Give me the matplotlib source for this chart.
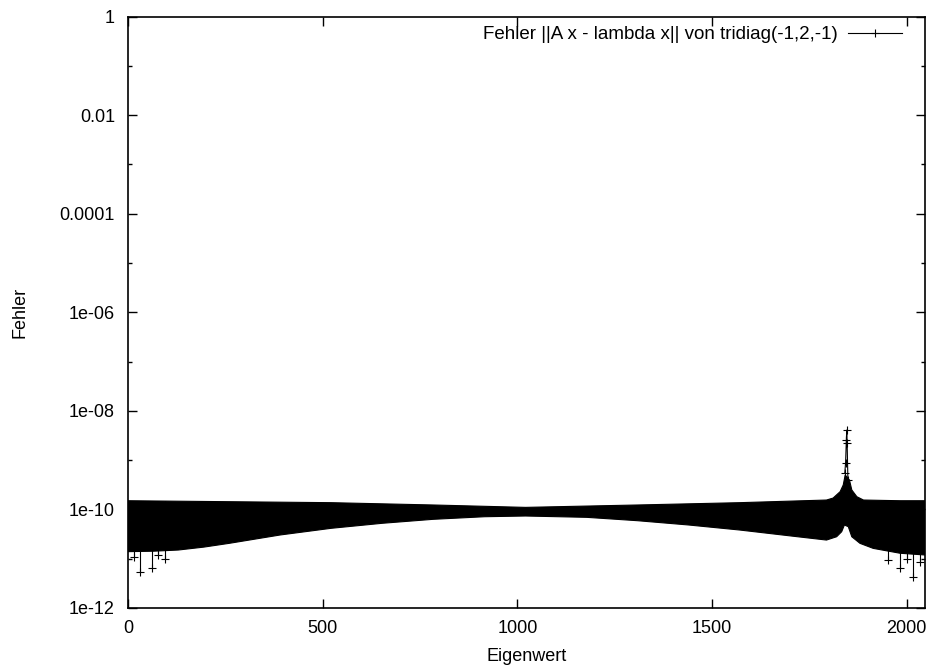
import matplotlib
matplotlib.use("Agg")
import matplotlib.pyplot as plt
import numpy as np

plt.rcParams["font.family"] = ["Liberation Sans", "DejaVu Sans"]

# Upper edge of the error band (eigenvalue index, error)
upper_idx = [0, 522, 784, 1021, 1309, 1571, 1794, 1811, 1829, 1837, 1842,
             1853, 1859, 1872, 1889, 1983, 2047]
upper_val = [1.50e-10, 1.37e-10, 1.23e-10, 1.10e-10, 1.23e-10, 1.37e-10, 1.55e-10,
             1.70e-10, 2.29e-10, 3.13e-10, 4.99e-10,
             3.95e-10, 2.48e-10, 1.81e-10, 1.55e-10, 1.50e-10, 1.50e-10]

# Lower edge of the error band
lower_idx = [0, 65, 129, 195, 260, 391, 522, 653, 784, 916, 1021, 1178, 1309, 1440,
             1571, 1703, 1794, 1820, 1833, 1840, 1850, 1859, 1880, 1914, 1983, 2047]
lower_val = [1.39e-11, 1.42e-11, 1.50e-11, 1.72e-11, 2.05e-11, 3.03e-11, 4.14e-11,
             5.23e-11, 6.30e-11, 7.11e-11, 7.35e-11, 6.91e-11, 5.90e-11, 4.83e-11,
             3.82e-11, 2.89e-11, 2.39e-11, 2.79e-11, 3.53e-11, 4.83e-11, 4.46e-11,
             2.79e-11, 2.05e-11, 1.62e-11, 1.29e-11, 1.19e-11]

# Peak near eigenvalue 1845
spike_idx = [1841, 1843, 1845, 1846, 1847, 1849]
spike_val = [5.5e-10, 8.7e-10, 2.56e-9, 4.08e-9, 2.22e-9, 3.95e-10]

# Single points that drop below the band
out_idx = [15, 30, 61, 78, 94, 1953, 1983, 2000, 2017, 2034]
out_val = [1.1e-11, 5.45e-12, 6.38e-12, 1.19e-11, 9.7e-12,
           9.4e-12, 6.38e-12, 9.7e-12, 4.3e-12, 8.7e-12]

ytick_vals = [1e-12, 1e-10, 1e-8, 1e-6, 1e-4, 1e-2, 1]
ytick_labels = ["1e-12", "1e-10", "1e-08", "1e-06", "0.0001", "0.01", "1"]
yminor_vals = [1e-11, 1e-9, 1e-7, 1e-5, 1e-3, 1e-1]
xtick_vals = [0, 500, 1000, 1500, 2000]

W, H = 932, 667
fig = plt.figure(figsize=(W / 100, H / 100), dpi=100)
ax = fig.add_axes([128 / W, 1 - 608 / H, (925 - 128) / W, (608 - 16.5) / H])

# band: dense zig-zag of the 2048 points renders as a solid black area
poly_x = np.concatenate([upper_idx, lower_idx[::-1]])
poly_y = np.concatenate([upper_val, lower_val[::-1]])
ax.fill(poly_x, poly_y, color="black", lw=0.8, ec="black")

# outliers hang off their neighbour on the upper edge
out_from = np.interp(out_idx, upper_idx, upper_val)
ax.vlines(out_idx, out_val, out_from, color="black", lw=0.8)
ax.plot(out_idx, out_val, ls="none", marker="+", ms=6, mew=0.8, color="black")

ax.plot(spike_idx, spike_val, "-", marker="+", ms=6, mew=0.8, lw=0.8, color="black",
        label="Fehler ||A x - lambda x|| von tridiag(-1,2,-1)")

ax.set_yscale("log")
ax.set_xlim(0, 2047)
ax.set_ylim(1e-12, 1)
ax.set_yticks(ytick_vals)
ax.set_yticklabels(ytick_labels)
ax.set_yticks(yminor_vals, minor=True)
ax.yaxis.set_minor_formatter(matplotlib.ticker.NullFormatter())
ax.set_xticks(xtick_vals)
ax.tick_params(which="both", direction="in", top=True, right=True,
               labelsize=13, width=1.0, color="black")
ax.tick_params(which="major", length=6.5)
ax.tick_params(which="minor", length=3.2)
ax.tick_params(axis="y", pad=9.4)
ax.tick_params(axis="x", pad=8.5)
for s in ax.spines.values():
    s.set_linewidth(1.2)

ax.set_xlabel("Eigenwert", fontsize=13)
ax.set_ylabel("Fehler", fontsize=13)
ax.xaxis.set_label_coords(0.5, -0.067)
ax.yaxis.set_label_coords(-0.125, 0.5)

ax.legend(loc="upper right", bbox_to_anchor=(902 / W, 1 - 26 / H),
          bbox_transform=fig.transFigure, frameon=False, markerfirst=False,
          handlelength=2.9, handletextpad=0.55, borderpad=0, borderaxespad=0,
          numpoints=1, fontsize=13.5)

fig.savefig("out.png", dpi=100)
